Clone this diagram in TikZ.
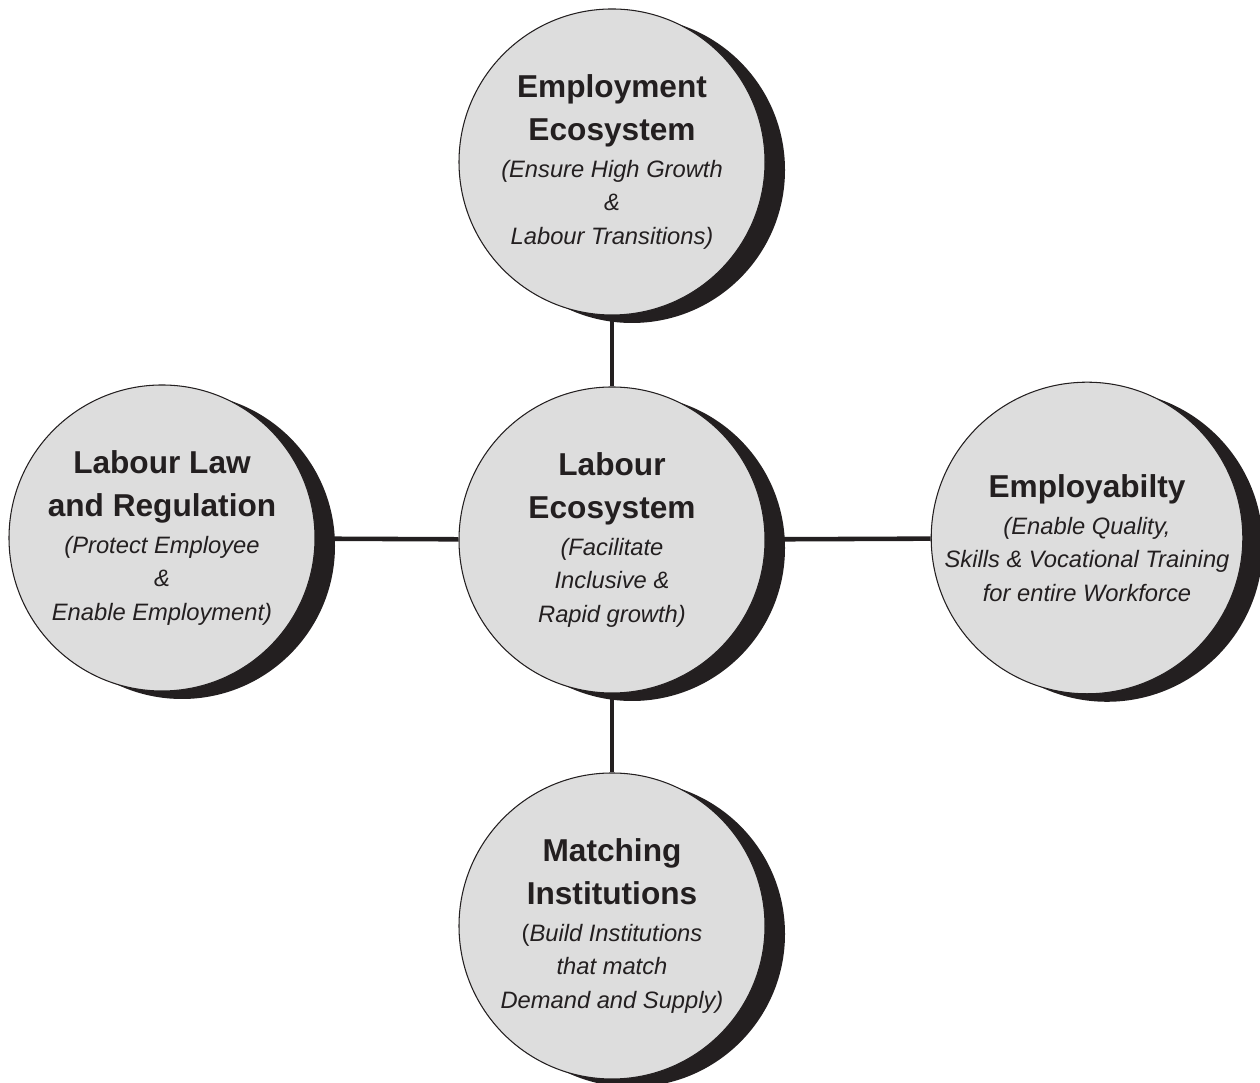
\documentclass[tikz,border=0pt]{standalone}
\usepackage{fontspec}
\setmainfont{Liberation Sans}
\usetikzlibrary{shadows}
\definecolor{ink}{RGB}{35,31,32}
\definecolor{bubblegray}{RGB}{221,221,221}
\newcommand{\bubbletitle}[1]{{\fontsize{18}{24}\selectfont\bfseries\upshape #1}}
\tikzset{
	bubble/.style={circle,draw=ink,line width=0.6pt,fill=bubblegray,minimum size=6.12cm,inner sep=0pt,
		align=center,text=ink,font=\fontsize{13.5}{19}\selectfont\itshape,
		drop shadow={shadow xshift=0.4cm,shadow yshift=-0.16cm,fill=ink,opacity=1}},
	link/.style={draw=ink,line width=2.6pt}
}
\begin{document}
\begin{tikzpicture}
		\useasboundingbox (0,0) rectangle (25.2,21.66);
		\node[bubble] (labour) at (12.24,10.86) {\bubbletitle{Labour}\\[5.4pt]\bubbletitle{Ecosystem}\\[2pt](Facilitate\\Inclusive \&\\Rapid growth)};
		\node[bubble] (employ) at (12.24,18.42) {\bubbletitle{Employment}\\[5.4pt]\bubbletitle{Ecosystem}\\[2pt](Ensure High Growth\\\&\\Labour Transitions)};
		\node[bubble] (law) at (3.24,10.9) {\bubbletitle{Labour Law}\\[5.4pt]\bubbletitle{and Regulation}\\[2pt](Protect Employee\\\&\\Enable Employment)};
		\node[bubble] (skills) at (21.74,10.9) {\bubbletitle{Employabilty}\\[2pt](Enable Quality,\\Skills \& Vocational Training\\for entire Workforce};
		\node[bubble] (match) at (12.24,3.14) {\bubbletitle{Matching}\\[5.4pt]\bubbletitle{Institutions}\\[2pt]{\upshape(}Build Institutions\\that match\\Demand and Supply)};
		% spokes from the hub
		\draw[link] (employ)--(labour);
		\draw[link] (labour)--(match);
		\draw[link] (law)--(labour);
		\draw[link] (labour)--(skills);
\end{tikzpicture}
\end{document}
